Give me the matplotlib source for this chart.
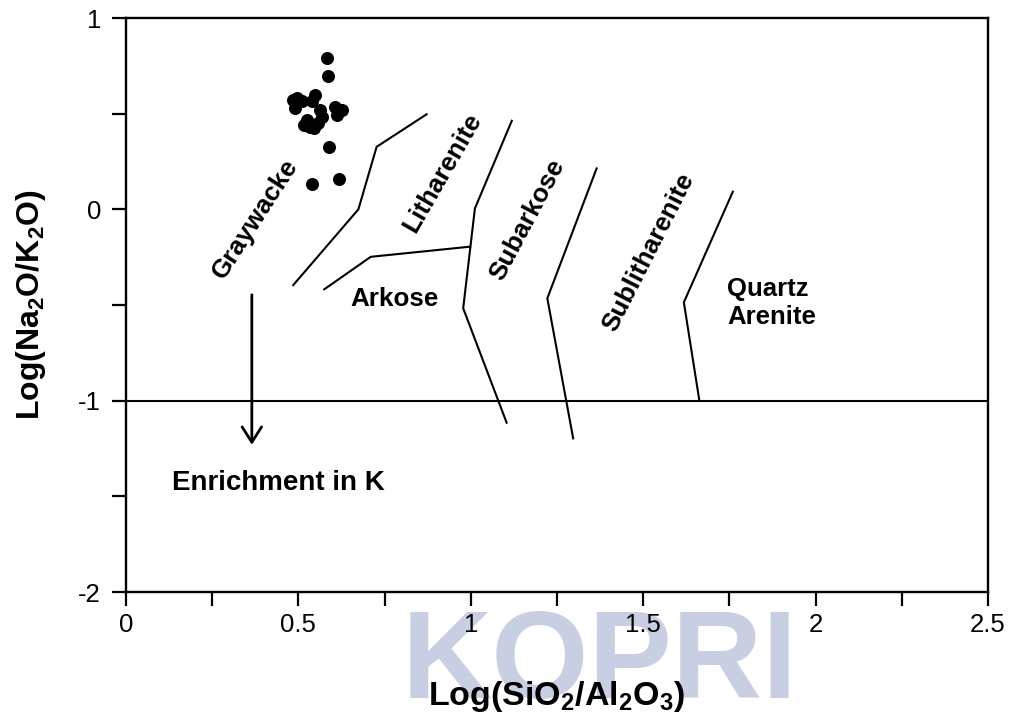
import matplotlib
matplotlib.use("Agg")
import matplotlib.pyplot as plt
from matplotlib.ticker import MultipleLocator

plt.rcParams["font.family"] = ["Liberation Sans", "DejaVu Sans"]
plt.rcParams["mathtext.fontset"] = "custom"
plt.rcParams["mathtext.rm"] = "Liberation Sans"
plt.rcParams["mathtext.bf"] = "Liberation Sans:bold"

# sample points, log(SiO2/Al2O3) vs log(Na2O/K2O)
sample_x = [0.582, 0.585, 0.484, 0.496, 0.490, 0.510, 0.548, 0.539, 0.563,
            0.524, 0.534, 0.558, 0.568, 0.545, 0.606, 0.626, 0.611, 0.590,
            0.539, 0.617, 0.516]
sample_y = [0.789, 0.697, 0.571, 0.582, 0.530, 0.565, 0.597, 0.566, 0.518,
            0.467, 0.432, 0.449, 0.484, 0.425, 0.536, 0.518, 0.493, 0.324,
            0.132, 0.158, 0.440]

# field boundaries (Pettijohn et al. 1972)
boundaries = {
    "graywacke": ([0.485, 0.674, 0.727, 0.872], [-0.396, 0.0, 0.327, 0.497]),
    "arkose": ([0.575, 0.710, 0.998], [-0.418, -0.248, -0.195]),
    "litharenite": ([1.119, 1.012, 0.978, 1.104], [0.463, 0.005, -0.517, -1.115]),
    "subarkose": ([1.365, 1.222, 1.297], [0.214, -0.465, -1.197]),
    "sublitharenite": ([1.760, 1.618, 1.663], [0.092, -0.486, -1.0]),
}

field_labels = [
    ("Graywacke", 0.376, -0.047, 57),
    ("Litharenite", 0.918, 0.190, 60),
    ("Subarkose", 1.165, -0.056, 62),
    ("Sublitharenite", 1.516, -0.226, 63),
    ("Arkose", 0.78, -0.47, 0),
]

fig = plt.figure(figsize=(10.16, 7.24), dpi=100)
ax = fig.add_axes([0.124, 0.1823, 0.8484, 0.7928])

for xs, ys in boundaries.values():
    ax.plot(xs, ys, color="black", lw=1.5, solid_joinstyle="miter")
ax.axhline(-1, color="black", lw=1.5)

ax.scatter(sample_x, sample_y, s=70, color="black", zorder=3)

for txt, x, y, rot in field_labels:
    ax.text(x, y, txt, rotation=rot, ha="center", va="center",
            fontsize=18.7, fontweight="bold", rotation_mode="anchor")
ax.text(1.743, -0.49, "Quartz\nArenite", ha="left", va="center",
        fontsize=18.5, fontweight="bold", linespacing=1.25)
ax.text(0.133, -1.431, "Enrichment in K", ha="left", va="center",
        fontsize=20, fontweight="bold")

ax.annotate("", xy=(0.365, -1.245), xytext=(0.365, -0.432),
            arrowprops=dict(arrowstyle="->,head_length=1.1,head_width=0.7",
                            lw=2, color="black"))

ax.set_xlim(0, 2.5)
ax.set_ylim(-2, 1)
ax.xaxis.set_major_locator(MultipleLocator(0.5))
ax.xaxis.set_minor_locator(MultipleLocator(0.25))
ax.yaxis.set_major_locator(MultipleLocator(1))
ax.yaxis.set_minor_locator(MultipleLocator(0.5))
ax.xaxis.set_major_formatter(lambda v, p: f"{v:g}")
ax.yaxis.set_major_formatter(lambda v, p: f"{v:g}")
ax.tick_params(which="both", direction="out", width=1.6, length=10,
               labelsize=18.5)
ax.tick_params(axis="x", pad=5)
ax.tick_params(axis="y", pad=8)
for sp in ax.spines.values():
    sp.set_linewidth(1.7)

ax.set_xlabel(r"Log(SiO$_\mathbf{2}$/Al$_\mathbf{2}$O$_\mathbf{3}$)",
              fontsize=24.5, fontweight="bold", labelpad=30)
ax.set_ylabel(r"Log(Na$_\mathbf{2}$O/K$_\mathbf{2}$O)",
              fontsize=23, fontweight="bold", labelpad=22)

# faint watermark under the x axis, behind everything
fig.text(0.59, 0.0, "KOPRI", fontsize=90, fontweight="bold",
         color="#c8cfe3", ha="center", va="bottom", zorder=-1)

fig.savefig("out.png", dpi=100)
